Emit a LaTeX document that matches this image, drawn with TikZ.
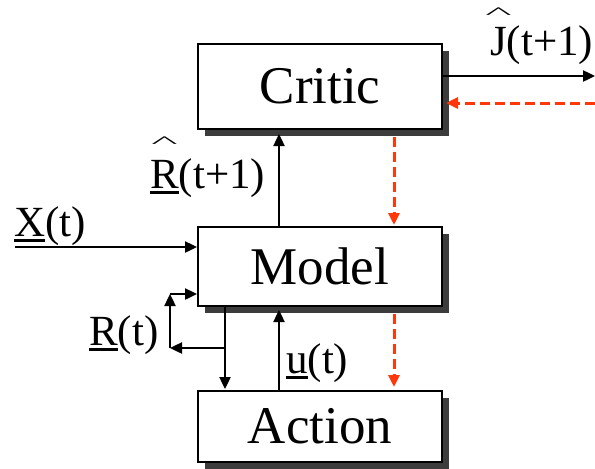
\documentclass[tikz,border=0pt]{standalone}
\usepackage{fontspec}
\setmainfont{Liberation Serif}
\usetikzlibrary{arrows.meta,shadows}
\definecolor{shadowgray}{RGB}{60,60,60}
\definecolor{fbred}{RGB}{255,55,10}
\newcommand\myul[1]{\leavevmode\setbox0\hbox{#1}\rlap{\rule[-6pt]{\wd0}{3pt}}\box0}
\newcommand\myhat[2]{\leavevmode\setbox0\hbox{#1}\rlap{\hbox to \wd0{\hss\raisebox{#2}{\scalebox{1.3}[0.38]{\^{}}}\hss}}\box0}
\tikzset{
  blockbox/.style={draw, line width=2pt, fill=white, minimum width=244pt, inner sep=0pt,
    font=\fontsize{53}{60}\selectfont,
    drop shadow={shadow xshift=7pt, shadow yshift=-7pt, fill=shadowgray, opacity=1}},
  arr/.style={line width=2.4pt, -{Triangle[length=12pt,width=11pt]}},
  redarr/.style={draw=fbred, line width=3pt, dash pattern=on 10pt off 5pt, -{Triangle[length=12pt,width=11pt]}, fbred},
  lbl/.style={font=\fontsize{43}{48}\selectfont, inner sep=0pt, anchor=base west}
}
\begin{document}
\begin{tikzpicture}[x=1pt,y=-1pt]
\useasboundingbox (0,0) rectangle (595,469);
\node[blockbox, minimum height=85pt] (critic) at (320,86.5) {Critic};
\node[blockbox, minimum height=79pt] (model) at (320,266.5) {Model};
\node[blockbox, minimum height=71pt] (action) at (320,426.5) {Action};
% outputs of critic
\coordinate (jout) at (595,76);
\coordinate (jin) at (595,103);
\draw[arr] ([yshift=10.5pt]critic.east) -- (jout);
\draw[redarr] (jin) -- ([xshift=3pt,yshift=-16.5pt]critic.east);
\node[lbl] (jlbl) at (490,55) {\myhat{J}{37pt}(t+1)};
% model to critic
\draw[arr] ([xshift=-41pt]model.north) -- ([xshift=-41pt,yshift=-4pt]critic.south);
\node[lbl] (rhatlbl) at (150,188) {\myhat{\myul{R}}{41pt}(t+1)};
\draw[redarr] ([xshift=74pt,yshift=-7pt]critic.south) -- ([xshift=74pt,yshift=1pt]model.north);
% X input
\coordinate (xin) at (15,247);
\draw[arr] (xin) -- ([yshift=19.5pt]model.west);
\node[lbl] (xlbl) at (14,236) {\myul{X}(t)};
% R loop
\coordinate (rb) at (225,348);
\coordinate (rl) at (170,348);
\coordinate (rt) at (170,294);
\draw[line width=2.4pt] ([xshift=-95pt]model.south) -- (rb);
\draw[arr] (rb) -- ([xshift=-95pt,yshift=1pt]action.north);
\draw[arr] (rb) -- (rl);
\draw[arr] (rl) -- (rt);
\draw[arr] (rt) -- ([yshift=-27.5pt]model.west);
\node[lbl] (rlbl) at (89,345) {\myul{R}(t)};
% u
\draw[arr] ([xshift=-41pt]action.north) -- ([xshift=-41pt,yshift=-3pt]model.south);
\node[lbl] (ulbl) at (286,373) {\myul{u}(t)};
\draw[redarr] ([xshift=74pt,yshift=-7pt]model.south) -- ([xshift=74pt,yshift=3pt]action.north);
\end{tikzpicture}
\end{document}
